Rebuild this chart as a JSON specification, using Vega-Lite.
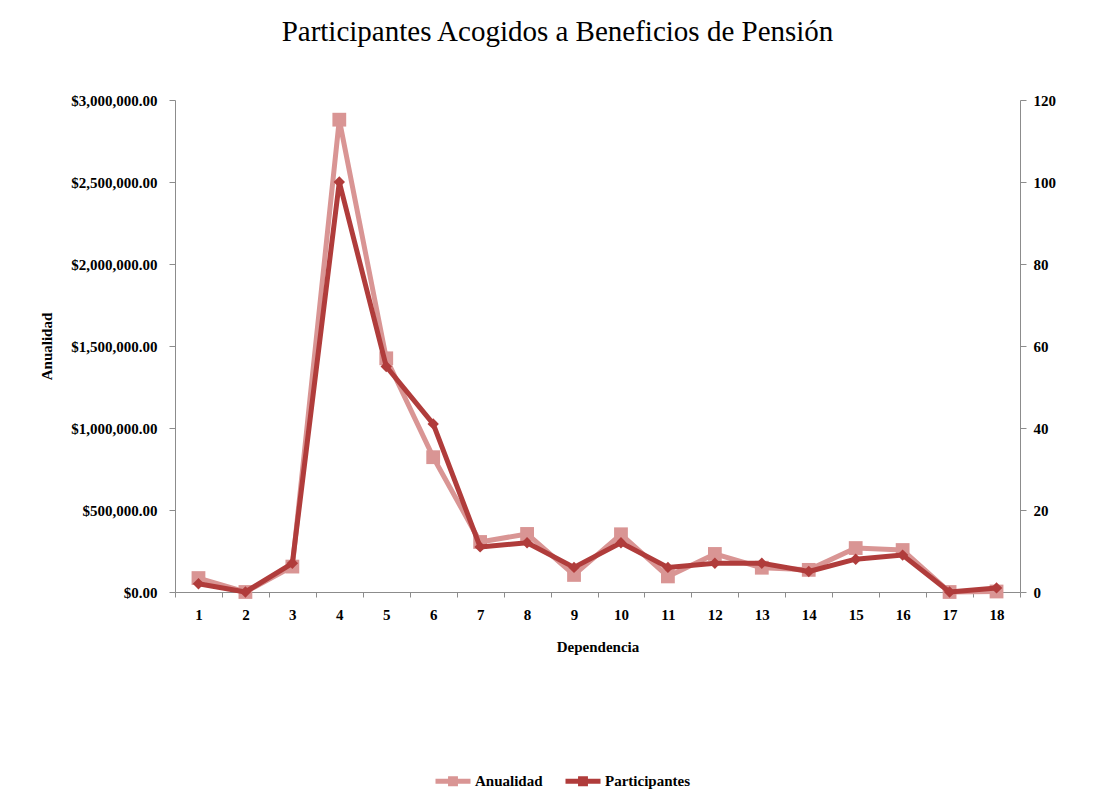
{
  "$schema": "https://vega.github.io/schema/vega-lite/v6.json",
  "autosize": {"type": "none"},
  "padding": {"left": 175, "top": 100, "right": 83, "bottom": 216},
  "width": 845,
  "height": 492,
  "background": "white",
  "title": {
    "text": "Participantes Acogidos a Beneficios de Pensión",
    "font": "Liberation Serif",
    "fontSize": 29,
    "fontWeight": "normal",
    "color": "black",
    "anchor": "middle",
    "dx": -40,
    "offset": 46
  },
  "config": {
    "view": {"stroke": null},
    "axis": {
      "labelFont": "Liberation Serif",
      "labelFontSize": 15,
      "labelFontWeight": "bold",
      "labelColor": "black",
      "titleFont": "Liberation Serif",
      "titleFontSize": 15,
      "titleFontWeight": "bold",
      "titleColor": "black",
      "domainColor": "#8c8c8c",
      "tickColor": "#8c8c8c",
      "tickSize": 6,
      "grid": false
    },
    "legend": {
      "labelFont": "Liberation Serif",
      "labelFontSize": 15,
      "labelFontWeight": "bold",
      "labelColor": "black"
    }
  },
  "data": {
    "values": [
      {"dep": 1, "anualidad": 85000, "participantes": 2},
      {"dep": 2, "anualidad": 0, "participantes": 0},
      {"dep": 3, "anualidad": 155000, "participantes": 7},
      {"dep": 4, "anualidad": 2880000, "participantes": 100},
      {"dep": 5, "anualidad": 1425000, "participantes": 55},
      {"dep": 6, "anualidad": 822000, "participantes": 41},
      {"dep": 7, "anualidad": 305000, "participantes": 11},
      {"dep": 8, "anualidad": 354000, "participantes": 12},
      {"dep": 9, "anualidad": 104000, "participantes": 6},
      {"dep": 10, "anualidad": 352000, "participantes": 12},
      {"dep": 11, "anualidad": 95000, "participantes": 6},
      {"dep": 12, "anualidad": 232000, "participantes": 7},
      {"dep": 13, "anualidad": 148000, "participantes": 7},
      {"dep": 14, "anualidad": 135000, "participantes": 5},
      {"dep": 15, "anualidad": 268000, "participantes": 8},
      {"dep": 16, "anualidad": 256000, "participantes": 9},
      {"dep": 17, "anualidad": 0, "participantes": 0},
      {"dep": 18, "anualidad": 3000, "participantes": 1}
    ]
  },
  "encoding": {
    "x": {
      "field": "dep",
      "type": "ordinal",
      "scale": {"type": "band", "paddingInner": 0, "paddingOuter": 0},
      "axis": {
        "title": "Dependencia",
        "labelAngle": 0,
        "tickBand": "extent",
        "tickSize": 5,
        "labelPadding": 10,
        "titlePadding": 17
      }
    }
  },
  "layer": [
    {
      "encoding": {
        "y": {
          "field": "anualidad",
          "type": "quantitative",
          "scale": {"domain": [0, 3000000], "nice": false},
          "axis": {
            "title": "Anualidad",
            "format": "$,.2f",
            "values": [0, 500000, 1000000, 1500000, 2000000, 2500000, 3000000],
            "labelPadding": 12,
            "titlePadding": 16
          }
        },
        "color": {
          "datum": "Anualidad",
          "type": "nominal",
          "scale": {"domain": ["Anualidad", "Participantes"], "range": ["#D99594", "#B03C3B"]},
          "legend": {
            "title": null,
            "orient": "none",
            "direction": "horizontal",
            "legendX": 258,
            "legendY": 661,
            "padding": 0,
            "symbolType": "M-1,0H1M-0.14,-0.14H0.14V0.14H-0.14Z",
            "symbolSize": 1225,
            "symbolStrokeWidth": 5,
            "labelOffset": 2,
            "columnPadding": 12
          }
        }
      },
      "layer": [
        {"mark": {"type": "line", "strokeWidth": 5, "strokeJoin": "round"}},
        {"mark": {"type": "point", "shape": "square", "filled": true, "size": 190, "opacity": 1}}
      ]
    },
    {
      "encoding": {
        "y": {
          "field": "participantes",
          "type": "quantitative",
          "scale": {"domain": [0, 120], "nice": false},
          "axis": {
            "orient": "right",
            "title": null,
            "values": [0, 20, 40, 60, 80, 100, 120],
            "labelPadding": 7
          }
        },
        "color": {"datum": "Participantes", "type": "nominal"}
      },
      "layer": [
        {"mark": {"type": "line", "strokeWidth": 5, "strokeJoin": "round"}},
        {"mark": {"type": "point", "shape": "diamond", "filled": true, "size": 130, "opacity": 1}}
      ]
    }
  ],
  "resolve": {"scale": {"y": "independent"}, "axis": {"y": "independent"}}
}
